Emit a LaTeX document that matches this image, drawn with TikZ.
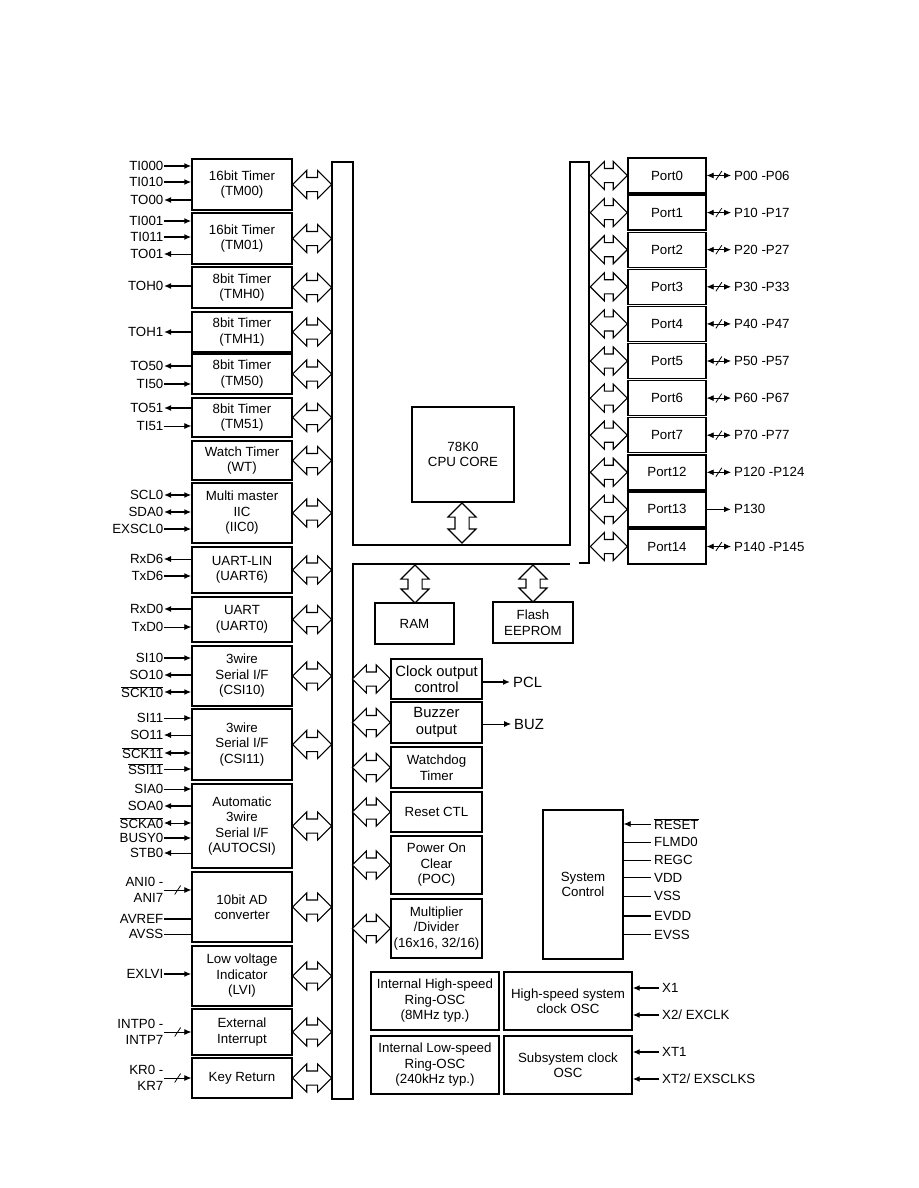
\documentclass[tikz,border=0pt]{standalone}
\usepackage{fontspec}
\setmainfont{Liberation Sans}
\usetikzlibrary{arrows.meta,positioning,shapes.arrows,decorations.markings}
\newcommand{\blkfont}{\fontsize{13.3}{15.5}\selectfont}
\newcommand{\bigblkfont}{\fontsize{14.8}{16.5}\selectfont}
\newcommand{\ovl}[1]{$\overline{\mbox{#1}}$}

\begin{document}
\begin{tikzpicture}[
  x=1pt,
  y=-1pt,
  >={Latex[length=7pt,width=6pt]},
  every node/.style={font=\blkfont},
  blk/.style={draw, line width=1.4pt, align=center, inner sep=0pt},
  lblk/.style={blk, minimum width=100pt},
  mblk/.style={blk, minimum width=91pt},
  port/.style={blk, minimum width=78pt, minimum height=35pt},
  oscblk/.style={blk, minimum width=128pt, minimum height=58pt},
  busarr/.style={double arrow, draw, fill=white, line width=1.1pt, inner xsep=0pt, inner ysep=6.5pt, double arrow head extend=7pt, minimum height=39pt, outer sep=0pt},
  bus/.style={line width=2pt, line join=miter},
  sig/.style={line width=1.5pt},
  sigthin/.style={line width=0.8pt},
  pinl/.style={anchor=east, inner sep=0.5pt},
  pinr/.style={anchor=west, inner ysep=0.5pt, inner xsep=3pt},
  slashed/.style={postaction={decorate}, decoration={markings, mark=at position 0.5 with {\draw[-, line width=0.8pt] (-3,4.5) -- (3,-4.5);}}}
]
\path[use as bounding box, fill=white] (0,0) rectangle (918,1188);

% internal bus
\draw[bus] (570,564) -- (353,564) -- (353,1099) -- (332,1099) -- (332,162) -- (353,162) -- (353,545)
  -- (570,545) -- (570,162) -- (589,162) -- (589,563) -- (579,563);

% peripherals on the left
\node[lblk, minimum height=51pt] (tm00) at (242,184.5) {16bit Timer\\(TM00)};
\node[lblk, minimum height=51pt] (tm01) at (242,238.5) {16bit Timer\\(TM01)};
\node[lblk, minimum height=41pt] (tmh0) at (242,287.5) {8bit Timer\\(TMH0)};
\node[lblk, minimum height=40pt] (tmh1) at (242,332) {8bit Timer\\(TMH1)};
\node[lblk, minimum height=40pt] (tm50) at (242,374) {8bit Timer\\(TM50)};
\node[lblk, minimum height=39pt] (tm51) at (242,417.5) {8bit Timer\\(TM51)};
\node[lblk, minimum height=39pt] (wt) at (242,460.5) {Watch Timer\\(WT)};
\node[lblk, minimum height=60pt] (iic0) at (242,513) {Multi master\\IIC\\(IIC0)};
\node[lblk, minimum height=46pt] (uart6) at (242,570) {UART-LIN\\(UART6)};
\node[lblk, minimum height=45pt] (uart0) at (242,619.5) {UART\\(UART0)};
\node[lblk, minimum height=60pt] (csi10) at (242,676) {3wire\\Serial I/F\\(CSI10)};
\node[lblk, minimum height=71pt] (csi11) at (242,744.5) {3wire\\Serial I/F\\(CSI11)};
\node[lblk, minimum height=84pt] (acsi) at (242,826) {Automatic\\3wire\\Serial I/F\\(AUTOCSI)};
\node[lblk, minimum height=70pt] (adc) at (242,907) {10bit AD\\converter};
\node[lblk, minimum height=60pt] (lvi) at (242,976) {Low voltage\\Indicator\\(LVI)};
\node[lblk, minimum height=46pt] (intp) at (242,1032) {External\\Interrupt};
\node[lblk, minimum height=40pt] (keyret) at (242,1078) {Key Return};

\node[busarr, anchor=west] (btm00) at (tm00.east) {};
\node[busarr, anchor=west] (btm01) at (tm01.east) {};
\node[busarr, anchor=west] (btmh0) at (tmh0.east) {};
\node[busarr, anchor=west] (btmh1) at (tmh1.east) {};
\node[busarr, anchor=west] (btm50) at (tm50.east) {};
\node[busarr, anchor=west] (btm51) at (tm51.east) {};
\node[busarr, anchor=west] (bwt) at (wt.east) {};
\node[busarr, anchor=west] (biic0) at (iic0.east) {};
\node[busarr, anchor=west] (buart6) at (uart6.east) {};
\node[busarr, anchor=west] (buart0) at (uart0.east) {};
\node[busarr, anchor=west] (bcsi10) at (csi10.east) {};
\node[busarr, anchor=west] (bcsi11) at (csi11.east) {};
\node[busarr, anchor=west] (bacsi) at (acsi.east) {};
\node[busarr, anchor=west] (badc) at (adc.east) {};
\node[busarr, anchor=west] (blvi) at (lvi.east) {};
\node[busarr, anchor=west] (bintp) at (intp.east) {};
\node[busarr, anchor=west] (bkeyret) at (keyret.east) {};

% pins of the left peripherals
\node[pinl] (ti000) at (164,166) {TI000};
\node[pinl] (ti010) at (164,182) {TI010};
\node[pinl] (to00) at (164,200) {TO00};
\draw[->, sig] (ti000.east) -- (ti000.east -| tm00.west);
\draw[->, sig] (ti010.east) -- (ti010.east -| tm00.west);
\draw[<-, sig] (to00.east) -- (to00.east -| tm00.west);
\node[pinl] (ti001) at (164,221) {TI001};
\node[pinl] (ti011) at (164,237) {TI011};
\node[pinl] (to01) at (164,254) {TO01};
\draw[->, sig] (ti001.east) -- (ti001.east -| tm01.west);
\draw[->, sig] (ti011.east) -- (ti011.east -| tm01.west);
\draw[<-, sigthin] (to01.east) -- (to01.east -| tm01.west);
\node[pinl] (toh0) at (164,286) {TOH0};
\draw[<-, sig] (toh0.east) -- (toh0.east -| tmh0.west);
\node[pinl] (toh1) at (164,332) {TOH1};
\draw[<-, sig] (toh1.east) -- (toh1.east -| tmh1.west);
\node[pinl] (to50) at (164,366) {TO50};
\node[pinl] (ti50) at (164,384) {TI50};
\draw[<-, sig] (to50.east) -- (to50.east -| tm50.west);
\draw[->, sig] (ti50.east) -- (ti50.east -| tm50.west);
\node[pinl] (to51) at (164,408) {TO51};
\node[pinl] (ti51) at (164,426) {TI51};
\draw[<-, sig] (to51.east) -- (to51.east -| tm51.west);
\draw[->, sigthin] (ti51.east) -- (ti51.east -| tm51.west);
\node[pinl] (scl0) at (164,495) {SCL0};
\node[pinl] (sda0) at (164,512) {SDA0};
\node[pinl] (exscl0) at (164,529) {EXSCL0};
\draw[<->, sig] (scl0.east) -- (scl0.east -| iic0.west);
\draw[<->, sig] (sda0.east) -- (sda0.east -| iic0.west);
\draw[->, sig] (exscl0.east) -- (exscl0.east -| iic0.west);
\node[pinl] (rxd6) at (164,559) {RxD6};
\node[pinl] (txd6) at (164,576) {TxD6};
\draw[<-, sigthin] (rxd6.east) -- (rxd6.east -| uart6.west);
\draw[->, sig] (txd6.east) -- (txd6.east -| uart6.west);
\node[pinl] (rxd0) at (164,609) {RxD0};
\node[pinl] (txd0) at (164,627) {TxD0};
\draw[<-, sig] (rxd0.east) -- (rxd0.east -| uart0.west);
\draw[->, sigthin] (txd0.east) -- (txd0.east -| uart0.west);
\node[pinl] (si10) at (164,658) {SI10};
\node[pinl] (so10) at (164,675) {SO10};
\node[pinl] (sck10) at (164,692) {\ovl{SCK10}};
\draw[->, sig] (si10.east) -- (si10.east -| csi10.west);
\draw[<-, sig] (so10.east) -- (so10.east -| csi10.west);
\draw[<->, sig] (sck10.east) -- (sck10.east -| csi10.west);
\node[pinl] (si11) at (164,718) {SI11};
\node[pinl] (so11) at (164,735) {SO11};
\node[pinl] (sck11) at (164,753) {\ovl{SCK11}};
\node[pinl] (ssi11) at (164,769) {\ovl{SSI11}};
\draw[->, sigthin] (si11.east) -- (si11.east -| csi11.west);
\draw[<-, sigthin] (so11.east) -- (so11.east -| csi11.west);
\draw[<->, sig] (sck11.east) -- (sck11.east -| csi11.west);
\draw[->, sigthin] (ssi11.east) -- (ssi11.east -| csi11.west);
\node[pinl] (sia0) at (164,789) {SIA0};
\node[pinl] (soa0) at (164,806) {SOA0};
\node[pinl] (scka0) at (164,823) {\ovl{SCKA0}};
\node[pinl] (busy0) at (164,838) {BUSY0};
\node[pinl] (stb0) at (164,853) {STB0};
\draw[->, sigthin] (sia0.east) -- (sia0.east -| acsi.west);
\draw[<-, sig] (soa0.east) -- (soa0.east -| acsi.west);
\draw[<->, sigthin] (scka0.east) -- (scka0.east -| acsi.west);
\draw[->, sig] (busy0.east) -- (busy0.east -| acsi.west);
\draw[<-, sigthin] (stb0.east) -- (stb0.east -| acsi.west);
\node[pinl, align=right] (ani) at (164,890) {ANI0 -\\ANI7};
\node[pinl] (avref) at (164,919) {AVREF};
\node[pinl] (avss) at (164,934) {AVSS};
\draw[->, sigthin, slashed] (ani.east) -- (ani.east -| adc.west);
\draw[sig] (avref.east) -- (avref.east -| adc.west);
\draw[sigthin] (avss.east) -- (avss.east -| adc.west);
\node[pinl] (exlvi) at (164,974) {EXLVI};
\draw[->, sig] (exlvi.east) -- (exlvi.east -| lvi.west);
\node[pinl, align=right] (intpin) at (164,1032) {INTP0 -\\INTP7};
\draw[->, sigthin, slashed] (intpin.east) -- (intpin.east -| intp.west);
\node[pinl, align=right] (kr) at (164,1078) {KR0 -\\KR7};
\draw[->, sigthin, slashed] (kr.east) -- (kr.east -| keyret.west);

% cpu and memories
\node[blk, minimum width=102pt, minimum height=95pt] (cpu) at (463,454.5) {78K0\\CPU CORE};
\node[busarr, rotate=90, minimum height=40pt] (bcpu) at (462,523) {};
\node[blk, minimum width=79pt, minimum height=41pt] (ram) at (414.5,623.5) {RAM};
\node[blk, minimum width=80pt, minimum height=41pt] (flash) at (533,622.5) {Flash\\EEPROM};
\node[busarr, rotate=90, minimum height=38pt] (bram) at (415,584) {};
\node[busarr, rotate=90, minimum height=37pt] (bflash) at (533,583.5) {};

% peripherals on the lower bus
\node[mblk, minimum height=40pt, font=\bigblkfont] (clkout) at (436.5,679) {Clock output\\control};
\node[mblk, minimum height=41pt, font=\bigblkfont] (buzzer) at (436.5,722.5) {Buzzer\\output};
\node[mblk, minimum height=41pt] (wdt) at (436.5,767.5) {Watchdog\\Timer};
\node[mblk, minimum height=40pt] (rstctl) at (436.5,812) {Reset CTL};
\node[mblk, minimum height=58pt] (poc) at (436.5,865) {Power On\\Clear\\(POC)};
\node[mblk, minimum height=59pt] (muldiv) at (436.5,928.5) {Multiplier\\/Divider\\(16x16, 32/16)};
\node[busarr, anchor=east, minimum height=38pt] (bclkout) at (clkout.west) {};
\node[busarr, anchor=east, minimum height=38pt] (bbuzzer) at (buzzer.west) {};
\node[busarr, anchor=east, minimum height=38pt] (bwdt) at (wdt.west) {};
\node[busarr, anchor=east, minimum height=38pt] (brstctl) at (rstctl.west) {};
\node[busarr, anchor=east, minimum height=38pt] (bpoc) at (poc.west) {};
\node[busarr, anchor=east, minimum height=38pt] (bmuldiv) at (muldiv.west) {};
\node[pinr, font=\bigblkfont] (pcl) at (510,682) {PCL};
\draw[->, sig] (pcl.west -| clkout.east) -- (pcl.west);
\node[pinr, font=\bigblkfont] (buz) at (511,724) {BUZ};
\draw[->, sigthin] (buz.west -| buzzer.east) -- (buz.west);

% system control
\node[blk, minimum width=80pt, minimum height=149pt] (sysctl) at (583,884.5) {System\\Control};
\node[pinr] (reset) at (651,824) {\ovl{RESET}};
\node[pinr] (flmd0) at (651,842) {FLMD0};
\node[pinr] (regc) at (651,860) {REGC};
\node[pinr] (vdd) at (651,877.5) {VDD};
\node[pinr] (vss) at (651,896) {VSS};
\node[pinr] (evdd) at (651,916) {EVDD};
\node[pinr] (evss) at (651,934.5) {EVSS};
\draw[<-, sigthin] (reset.west -| sysctl.east) -- (reset.west);
\draw[sigthin] (flmd0.west -| sysctl.east) -- (flmd0.west);
\draw[sigthin] (regc.west -| sysctl.east) -- (regc.west);
\draw[sigthin] (vdd.west -| sysctl.east) -- (vdd.west);
\draw[sigthin] (vss.west -| sysctl.east) -- (vss.west);
\draw[sig] (evdd.west -| sysctl.east) -- (evdd.west);
\draw[sigthin] (evss.west -| sysctl.east) -- (evss.west);

% oscillators
\node[oscblk] (hsring) at (435,1001) {Internal High-speed\\Ring-OSC\\(8MHz typ.)};
\node[oscblk] (hsosc) at (568,1001) {High-speed system\\clock OSC};
\node[oscblk] (lsring) at (435,1065) {Internal Low-speed\\Ring-OSC\\(240kHz typ.)};
\node[oscblk] (subosc) at (568,1065) {Subsystem clock\\OSC};
\node[pinr] (x1) at (659,988) {X1};
\node[pinr] (x2) at (659,1015) {X2/ EXCLK};
\node[pinr] (xt1) at (659,1052) {XT1};
\node[pinr] (xt2) at (659,1079) {XT2/ EXSCLKS};
\draw[<-, sig] (x1.west -| hsosc.east) -- (x1.west);
\draw[<-, sig] (x2.west -| hsosc.east) -- (x2.west);
\draw[<-, sig] (xt1.west -| subosc.east) -- (xt1.west);
\draw[<-, sig] (xt2.west -| subosc.east) -- (xt2.west);

% ports
\node[port] (p0) at (667,175.5) {Port0};
\node[port] (p1) at (667,212.6) {Port1};
\node[port] (p2) at (667,249.7) {Port2};
\node[port] (p3) at (667,286.8) {Port3};
\node[port] (p4) at (667,323.9) {Port4};
\node[port] (p5) at (667,361) {Port5};
\node[port] (p6) at (667,398.1) {Port6};
\node[port] (p7) at (667,435.2) {Port7};
\node[port] (p12) at (667,472.3) {Port12};
\node[port] (p13) at (667,509.4) {Port13};
\node[port] (p14) at (667,546.5) {Port14};
\node[busarr, anchor=east, minimum height=37pt] (bp0) at (p0.west) {};
\node[busarr, anchor=east, minimum height=37pt] (bp1) at (p1.west) {};
\node[busarr, anchor=east, minimum height=37pt] (bp2) at (p2.west) {};
\node[busarr, anchor=east, minimum height=37pt] (bp3) at (p3.west) {};
\node[busarr, anchor=east, minimum height=37pt] (bp4) at (p4.west) {};
\node[busarr, anchor=east, minimum height=37pt] (bp5) at (p5.west) {};
\node[busarr, anchor=east, minimum height=37pt] (bp6) at (p6.west) {};
\node[busarr, anchor=east, minimum height=37pt] (bp7) at (p7.west) {};
\node[busarr, anchor=east, minimum height=37pt] (bp12) at (p12.west) {};
\node[busarr, anchor=east, minimum height=37pt] (bp13) at (p13.west) {};
\node[busarr, anchor=east, minimum height=37pt] (bp14) at (p14.west) {};
\node[pinr] (lp0) at (731,175.5) {P00 -P06};
\node[pinr] (lp1) at (731,212.6) {P10 -P17};
\node[pinr] (lp2) at (731,249.7) {P20 -P27};
\node[pinr] (lp3) at (731,286.8) {P30 -P33};
\node[pinr] (lp4) at (731,323.9) {P40 -P47};
\node[pinr] (lp5) at (731,361) {P50 -P57};
\node[pinr] (lp6) at (731,398.1) {P60 -P67};
\node[pinr] (lp7) at (731,435.2) {P70 -P77};
\node[pinr] (lp12) at (731,472.3) {P120 -P124};
\node[pinr] (lp13) at (731,509.4) {P130};
\node[pinr] (lp14) at (731,546.5) {P140 -P145};
\draw[<->, sigthin, slashed] (p0.east) -- (lp0.west);
\draw[<->, sigthin, slashed] (p1.east) -- (lp1.west);
\draw[<->, sigthin, slashed] (p2.east) -- (lp2.west);
\draw[<->, sigthin, slashed] (p3.east) -- (lp3.west);
\draw[<->, sigthin, slashed] (p4.east) -- (lp4.west);
\draw[<->, sigthin, slashed] (p5.east) -- (lp5.west);
\draw[<->, sigthin, slashed] (p6.east) -- (lp6.west);
\draw[<->, sigthin, slashed] (p7.east) -- (lp7.west);
\draw[<->, sigthin, slashed] (p12.east) -- (lp12.west);
\draw[->, sig] (p13.east) -- (lp13.west);
\draw[<->, sigthin, slashed] (p14.east) -- (lp14.west);
\end{tikzpicture}
\end{document}
